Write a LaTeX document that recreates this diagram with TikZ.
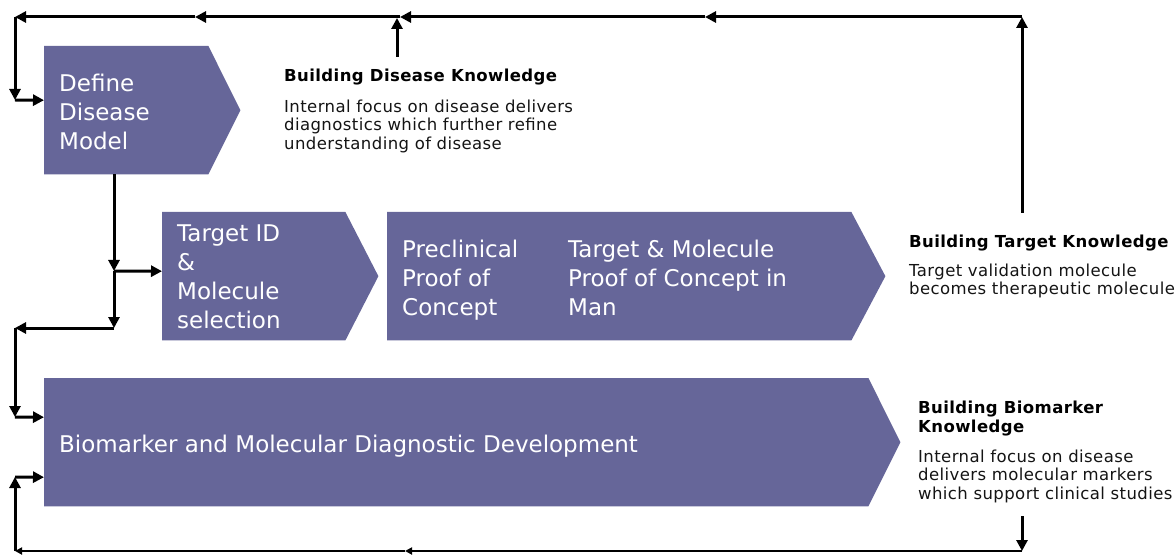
\documentclass[tikz,border=0pt]{standalone}
\usepackage{fontspec}
\setmainfont{DejaVu Sans}
\newfontfamily\notefont{DejaVu Sans}[LetterSpace=2.5]
\usetikzlibrary{arrows.meta,calc}
\definecolor{boxfill}{HTML}{666699}
\definecolor{bodytext}{HTML}{141414}

\begin{document}
\begin{tikzpicture}[x=1pt,y=-1pt,
  flow/.style={line width=3pt, draw=black, -{Triangle[length=11pt,width=11pt]}},
  flowsmall/.style={line width=2.6pt, draw=black, -{Triangle[length=7pt,width=7pt]}},
  stage/.style={inner sep=0pt, anchor=north west, minimum height=128pt},
  stagetext/.style={inner sep=0pt, anchor=north west, align=left, text=white,
    font=\fontsize{23}{29}\selectfont},
  notetitle/.style={inner sep=0pt, anchor=north west, align=left, text=black,
    font=\notefont\bfseries\fontsize{16.5}{19}\selectfont},
  notebody/.style={inner sep=0pt, anchor=north west, align=left, text=bodytext,
    font=\notefont\fontsize{16.5}{18.5}\selectfont},
]
\useasboundingbox (0,0) rectangle (1176,556);

% stage chevrons: rectangular body plus a pointed tip
\node[stage, minimum width=164pt] (dm) at (44,46) {};
\node[stage, minimum width=183pt] (tm) at (162,212) {};
\node[stage, minimum width=464pt] (pc) at (387,212) {};
\node[stage, minimum width=824pt] (bm) at (44,378) {};
\fill[boxfill] (dm.north west) -- (dm.north east) -- ($(dm.east)+(32,0)$) -- (dm.south east) -- (dm.south west) -- cycle;
\fill[boxfill] (tm.north west) -- (tm.north east) -- ($(tm.east)+(33,0)$) -- (tm.south east) -- (tm.south west) -- cycle;
\fill[boxfill] (pc.north west) -- (pc.north east) -- ($(pc.east)+(34,0)$) -- (pc.south east) -- (pc.south west) -- cycle;
\fill[boxfill] (bm.north west) -- (bm.north east) -- ($(bm.east)+(32,0)$) -- (bm.south east) -- (bm.south west) -- cycle;

% stage labels
\node[stagetext] (dmtext) at (59,73.5) {Define\\Disease\\Model};
\node[stagetext] (tmtext) at (177,224.5) {Target ID\\\&\\Molecule\\selection};
\node[stagetext] (pctext) at (402,239.5) {Preclinical\\Proof of\\Concept};
\node[stagetext] (mantext) at (568,239.5) {Target \& Molecule\\Proof of Concept in\\Man};
\node[stagetext] (bmtext) at (59,434.5) {Biomarker and Molecular Diagnostic Development};

% knowledge notes
\node[notetitle] (dkt) at (284,68.5) {Building Disease Knowledge};
\node[notebody] (dkb) at (284,99.5) {Internal focus on disease delivers\\diagnostics which further refine\\understanding of disease};
\node[notetitle] (tkt) at (909,234.5) {Building Target Knowledge};
\node[notebody] (tkb) at (909,263.5) {Target validation molecule\\becomes therapeutic molecule};
\node[notetitle] (bkt) at (918,400.5) {Building Biomarker\\Knowledge};
\node[notebody] (bkb) at (918,449.5) {Internal focus on disease\\delivers molecular markers\\which support clinical studies};

% feedback loop coordinates
\coordinate (tkup) at (1022,213);
\coordinate (tr) at (1022,17);
\coordinate (t1) at (705,17);
\coordinate (tj) at (400,17);
\coordinate (t2) at (195,17);
\coordinate (tl) at (15,17);
\coordinate (dkup) at (397,57);
\coordinate (dkjoin) at (397,18);
\coordinate (dmleft) at (15,100);
\coordinate (split) at ($(dm.south west)+(70,0)$);
\coordinate (tmfork) at (114,271);
\coordinate (bmfork) at (114,328);
\coordinate (ml) at (15,328);
\coordinate (bmleft) at (15,417);
\coordinate (bkdown) at (1022,516);
\coordinate (br) at (1022,551);
\coordinate (b1) at (405,551);
\coordinate (bl) at (15,551);
\coordinate (bmlow) at (15,477);

% target knowledge feeds back to the disease model
\draw[flow] (tkup) -- (tr);
\draw[flow] (tr) -- (t1);
\draw[flow] (t1) -- (tj);
\draw[flow] (tj) -- (t2);
\draw[flow] (t2) -- (tl);
\draw[flow] (dkup) -- (dkjoin);
\draw[flow] (tl) -- (dmleft);
\draw[flow] (dmleft) -- ($(dm.west)+(0,-10)$);

% disease model feeds target selection and biomarker work
\draw[flow] (split) -- (tmfork);
\draw[flow] (tmfork) -- ($(tm.west)+(0,-5)$);
\draw[flow] (tmfork) -- (bmfork);
\draw[flow] (bmfork) -- (ml);
\draw[flow] (ml) -- (bmleft);
\draw[flow] (bmleft) -- ($(bm.west)+(0,-25)$);

% biomarker knowledge loops back to biomarker development
\draw[flow] (bkdown) -- (br);
\draw[flowsmall] (br) -- (b1);
\draw[flowsmall] (b1) -- (bl);
\draw[flow] (bl) -- (bmlow);
\draw[flow] (bmlow) -- ($(bm.west)+(0,35)$);
\end{tikzpicture}
\end{document}
